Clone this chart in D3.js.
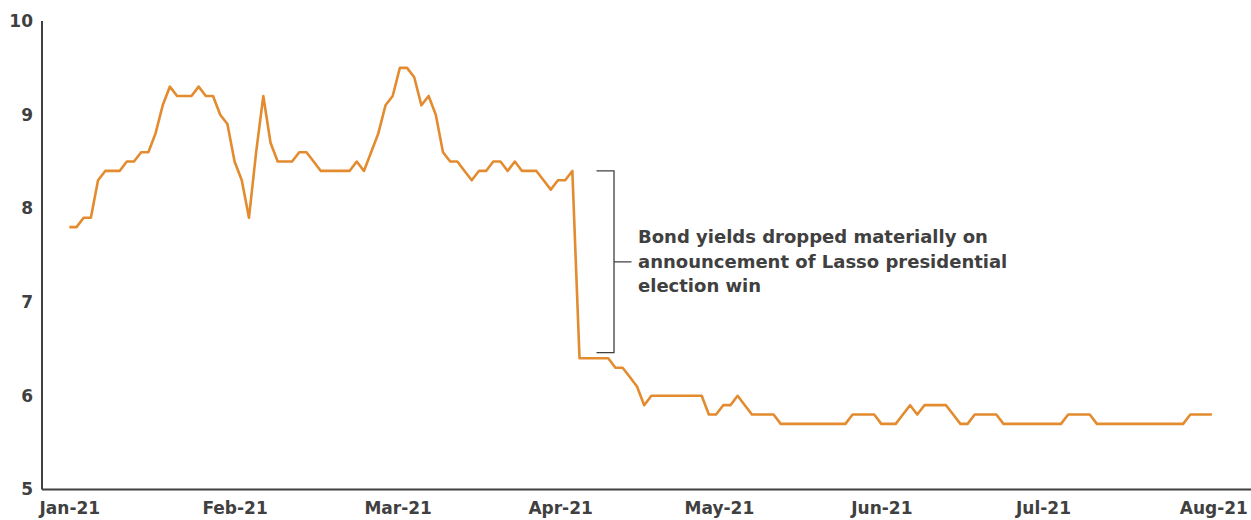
<!DOCTYPE html>
<html>
<head>
  <meta charset="UTF-8">
  <title>Bond yields</title>
  <style>
    body{ margin:0; background:#fff; }
    text{ font-family: 'DejaVu Sans', sans-serif; font-weight: bold; fill:#404040; }
    .axis path{ stroke:#404040; stroke-width:2; }
    .axis line{ display:none; }
    .axis text{ font-size:17px; }
    .note{ font-size:18px; }
  </style>
</head>
<body>
  <script src="https://d3js.org/d3.v7.min.js"></script>
  <script>
    // daily yield, %
    var yields = [
      7.8, 7.8, 7.9, 7.9, 8.3, 8.4, 8.4, 8.4, 8.5, 8.5,
      8.6, 8.6, 8.8, 9.1, 9.3, 9.2, 9.2, 9.2, 9.3, 9.2,
      9.2, 9.0, 8.9, 8.5, 8.3, 7.9, 8.6, 9.2, 8.7, 8.5,
      8.5, 8.5, 8.6, 8.6, 8.5, 8.4, 8.4, 8.4, 8.4, 8.4,
      8.5, 8.4, 8.6, 8.8, 9.1, 9.2, 9.5, 9.5, 9.4, 9.1,
      9.2, 9.0, 8.6, 8.5, 8.5, 8.4, 8.3, 8.4, 8.4, 8.5,
      8.5, 8.4, 8.5, 8.4, 8.4, 8.4, 8.3, 8.2, 8.3, 8.3,
      8.4, 6.4, 6.4, 6.4, 6.4, 6.4, 6.3, 6.3, 6.2, 6.1,
      5.9, 6.0, 6.0, 6.0, 6.0, 6.0, 6.0, 6.0, 6.0, 5.8,
      5.8, 5.9, 5.9, 6.0, 5.9, 5.8, 5.8, 5.8, 5.8, 5.7,
      5.7, 5.7, 5.7, 5.7, 5.7, 5.7, 5.7, 5.7, 5.7, 5.8,
      5.8, 5.8, 5.8, 5.7, 5.7, 5.7, 5.8, 5.9, 5.8, 5.9,
      5.9, 5.9, 5.9, 5.8, 5.7, 5.7, 5.8, 5.8, 5.8, 5.8,
      5.7, 5.7, 5.7, 5.7, 5.7, 5.7, 5.7, 5.7, 5.7, 5.8,
      5.8, 5.8, 5.8, 5.7, 5.7, 5.7, 5.7, 5.7, 5.7, 5.7,
      5.7, 5.7, 5.7, 5.7, 5.7, 5.7, 5.8, 5.8, 5.8, 5.8
    ];
    var monthLabels = ["Jan-21", "Feb-21", "Mar-21", "Apr-21", "May-21", "Jun-21", "Jul-21", "Aug-21"];
    var monthPos = [0, 23, 45.7, 68.3, 90.4, 113, 135.5, 159.2];   // position on the day index
    var yTicks = [5, 6, 7, 8, 9, 10];
    var noteLines = ["Bond yields dropped materially on", "announcement of Lasso presidential", "election win"];
    var bracketRange = [8.4, 6.46];
    var bracketAt = 75.8;

    var width = 1251, height = 520;
    var svg = d3.select("body").append("svg")
        .attr("width", width)
        .attr("height", height);

    var x = d3.scaleLinear().domain([0, yields.length - 1]).range([69.3, 1211.9]);
    var y = d3.scaleLinear().domain([5, 10]).range([489.5, 21]);
    var axisLeft = 42;

    // axes
    svg.append("g")
        .attr("class", "axis")
        .attr("transform", "translate(" + axisLeft + ",0)")
        .call(d3.axisLeft(y).tickValues(yTicks).tickFormat(d3.format("d"))
              .tickSize(0).tickPadding(9).tickSizeOuter(0))
        .call(function(g) { g.select(".domain").attr("d", "M0," + y(10) + "V" + y(5)); });

    var xg = svg.append("g")
        .attr("class", "axis")
        .attr("transform", "translate(0," + y(5) + ")")
        .call(d3.axisBottom(x).tickValues(monthPos)
              .tickFormat(function(d, i) { return monthLabels[i]; })
              .tickSize(0).tickPadding(12));
    xg.select(".domain").attr("d", "M" + axisLeft + ",0H" + width);

    // line
    var line = d3.line()
        .x(function(d, i) { return x(i); })
        .y(function(d) { return y(d); });

    svg.append("path")
        .datum(yields)
        .attr("fill", "none")
        .attr("stroke", "#E38B2F")
        .attr("stroke-width", 2.6)
        .attr("stroke-linejoin", "round")
        .attr("d", line);

    // bracket annotation
    var bx = x(bracketAt), by0 = y(bracketRange[0]), by1 = y(bracketRange[1]);
    var bmid = (by0 + by1) / 2;
    svg.append("path")
        .attr("fill", "none")
        .attr("stroke", "#404040")
        .attr("stroke-width", 1.3)
        .attr("d", "M" + (bx - 17.5) + "," + by0 + "H" + bx + "V" + by1 + "H" + (bx - 17.5) +
                   "M" + bx + "," + bmid + "H" + (bx + 17.5));

    svg.append("g").selectAll("text")
        .data(noteLines)
        .enter().append("text")
          .attr("class", "note")
          .attr("x", bx + 24)
          .attr("y", function(d, i) { return 243 + i * 24.5; })
          .text(function(d) { return d; });
  </script>
</body>
</html>
